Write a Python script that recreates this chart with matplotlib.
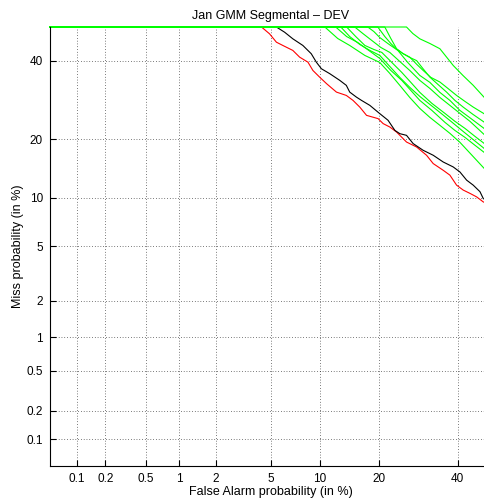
import math
import numpy as np
import matplotlib
matplotlib.use("Agg")
import matplotlib.pyplot as plt

plt.rcParams['font.family'] = ['Liberation Sans', 'DejaVu Sans']

# ---------------- data (percent) ----------------
title = "Jan GMM Segmental \u2013 DEV"
xlabel = "False Alarm probability (in %)"
ylabel = "Miss probability (in %)"
tick_values = [0.1, 0.2, 0.5, 1, 2, 5, 10, 20, 40]
tick_labels = ["0.1", "0.2", "0.5", "1", "2", "5", "10", "20", "40"]

red_fa = [0.05, 4.32, 4.90, 5.44, 5.99, 6.93, 7.63, 8.56, 9.15, 10.0, 10.94, 12.38, 13.95, 15.09,
          16.30, 17.57, 19.88, 20.95, 22.41, 23.95, 26.30, 28.81, 31.39, 33.17, 35.92, 37.80,
          39.71, 41.62, 43.59, 45.57, 47.53, 50]
red_miss = [50, 50, 47.96, 45.47, 44.5, 43.03, 41.06, 39.6, 37.23, 35.36, 33.55, 31.28, 30.4, 29.11,
            27.41, 25.39, 24.61, 23.45, 22.67, 21.55, 19.43, 18.42, 16.82, 15.30, 14.14, 13.34,
            11.79, 11.08, 10.62, 10.14, 9.49, 9.08]

black_fa = [0.05, 5.44, 6.15, 6.93, 7.98, 8.95, 9.58, 10.24, 11.40, 12.90, 13.95, 14.52, 15.70,
            16.62, 18.22, 20.24, 22.02, 23.56, 24.70, 26.30, 27.94, 30.5, 33.17, 35.92, 38.74,
            40.67, 42.62, 44.56, 46.55, 47.53, 50]
black_miss = [50, 50, 48.44, 46.47, 44.5, 42.06, 39.6, 37.71, 36.31, 34.45, 33.09, 31.28, 29.95,
              29.11, 27.84, 25.80, 24.22, 21.91, 21.2, 20.84, 19.11, 17.77, 16.82, 15.58, 14.71,
              13.86, 12.55, 11.79, 10.85, 9.92, 9.33]

g1_fa = [0.05, 26.30, 27.86, 29.64, 32.27, 35.0, 36.94, 38.74, 41.54, 44.56, 47.74, 50]
g1_miss = [50, 50, 48.05, 46.47, 45.09, 43.53, 40.97, 38.66, 35.83, 33.09, 29.95, 28.09]

g2_fa = [0.05, 21.31, 22.64, 23.95, 25.41, 27.10, 28.88, 30.5, 32.55, 35.0, 37.23, 39.71, 42.12,
         44.56, 47.74, 50]
g2_miss = [50, 50, 46.56, 43.53, 42.15, 41.06, 38.94, 37.23, 35.28, 34.0, 32.27, 30.4, 28.86,
           27.41, 25.80, 24.22]

g3_fa = [0.05, 19.82, 21.31, 22.69, 24.02, 25.48, 27.10, 28.81, 30.42, 32.27, 34.45, 36.86, 39.23,
         41.62, 44.47, 47.74, 50]
g3_miss = [50, 50, 47.15, 45.0, 43.32, 42.06, 40.97, 40.06, 37.8, 35.36, 33.36, 31.28, 29.11,
           27.41, 25.63, 23.82, 22.37]

g4_fa = [0.05, 17.81, 19.01, 20.24, 21.96, 24.24, 26.61, 29.64, 32.27, 35.0, 37.80, 40.67, 44.18,
         47.74, 50]
g4_miss = [50, 50, 48.65, 46.85, 45.09, 43.03, 39.51, 35.83, 33.91, 31.2, 29.11, 26.59, 24.45,
           22.37, 21.05]

g5_fa = [0.05, 15.39, 16.87, 18.61, 20.45, 22.41, 24.70, 27.10, 29.64, 32.27, 35.0, 37.80, 40.67,
         43.59, 47.74, 50]
g5_miss = [50, 50, 48.05, 45.97, 43.91, 42.44, 39.8, 37.23, 34.45, 32.27, 29.87, 27.84, 25.87,
           23.98, 21.05, 20.0]

g6_fa = [0.05, 14.0, 15.57, 17.25, 19.01, 20.67, 22.87, 25.17, 27.36, 29.64, 32.82, 36.39, 39.23,
         42.12, 45.06, 47.74, 50]
g6_miss = [50, 50, 47.15, 44.5, 43.32, 42.44, 39.51, 36.67, 33.91, 31.2, 28.35, 25.87, 23.98,
           22.37, 20.62, 19.17, 18.16]

g7_fa = [0.05, 13.06, 14.52, 16.30, 18.22, 20.24, 22.41, 24.70, 27.10, 29.64, 32.27, 35.0, 38.09,
         41.25, 44.47, 47.74, 50]
g7_miss = [50, 50, 47.15, 44.79, 43.03, 41.56, 38.37, 35.28, 32.55, 30.13, 28.09, 26.11, 23.98,
           21.91, 19.98, 18.16, 17.2]

g8_fa = [0.05, 12.27, 14.0, 15.93, 18.0, 20.24, 22.64, 25.17, 27.36, 29.64, 32.82, 36.39, 39.23,
         42.12, 45.06, 47.74, 50]
g8_miss = [50, 50, 47.15, 45.38, 43.03, 40.68, 37.23, 34.45, 31.73, 29.11, 26.59, 23.75, 21.91,
           20.41, 18.77, 17.39, 16.44]

g9_fa = [0.05, 10.70, 12.58, 14.52, 17.25, 20.24, 22.41, 24.70, 27.10, 29.64, 32.27, 35.0, 37.80,
         40.67, 44.18, 47.74, 50]
g9_miss = [50, 50, 46.56, 44.5, 41.56, 39.51, 36.39, 33.09, 29.87, 27.08, 24.91, 23.06, 21.27,
           19.37, 16.82, 14.49, 13.34]

green_fa = [g1_fa, g2_fa, g3_fa, g4_fa, g5_fa, g6_fa, g7_fa, g8_fa, g9_fa]
green_miss = [g1_miss, g2_miss, g3_miss, g4_miss, g5_miss, g6_miss, g7_miss, g8_miss, g9_miss]

# ---------------- normal deviate scale ----------------
_a = [-3.969683028665376e+01, 2.209460984245205e+02, -2.759285104469687e+02,
      1.383577518672690e+02, -3.066479806614716e+01, 2.506628277459239e+00]
_b = [-5.447609879822406e+01, 1.615858368580409e+02, -1.556989798598866e+02,
      6.680131188771972e+01, -1.328068155288572e+01, 1.0]
_c = [-7.784894002430293e-03, -3.223964580411365e-01, -2.400758277161838e+00,
      -2.549732539343734e+00, 4.374664141464968e+00, 2.938163982698783e+00]
_d = [7.784695709041462e-03, 3.224671290700398e-01, 2.445134137142996e+00,
      3.754408661907416e+00, 1.0]
_plow = 0.02425


def probit(pct):
    arr = np.asarray(pct, dtype=float)
    shape = arr.shape
    p = np.clip(np.atleast_1d(arr).ravel() / 100.0, 1e-9, 1 - 1e-9)
    z = np.empty_like(p)
    lo = p < _plow
    hi = p > 1 - _plow
    mid = ~(lo | hi)
    q = np.sqrt(-2 * np.log(p[lo]))
    z[lo] = np.polyval(_c, q) / np.polyval(_d, q)
    q = p[mid] - 0.5
    r = q * q
    z[mid] = np.polyval(_a, r) * q / np.polyval(_b, r)
    q = np.sqrt(-2 * np.log(1 - p[hi]))
    z[hi] = -np.polyval(_c, q) / np.polyval(_d, q)
    return z.reshape(shape)


_erf = np.vectorize(math.erf, otypes=[float])


def cdf(z):
    z = np.asarray(z, dtype=float)
    return 50.0 * (1.0 + _erf(z / math.sqrt(2.0)))


# ---------------- figure ----------------
W, H = 484, 501
fig = plt.figure(figsize=(W / 100, H / 100), dpi=100)
ax = fig.add_axes([50 / W, 35 / H, 441.6 / W, 439 / H])
ax.set_xscale('function', functions=(probit, cdf))
ax.set_yscale('function', functions=(probit, cdf))
ax.set_xlim(0.05, 50)
ax.set_ylim(0.05, 50)

lw = 0.8
ax.plot(red_fa, red_miss, color='#ff0000', lw=lw, clip_on=False)
ax.plot(black_fa, black_miss, color='black', lw=lw, clip_on=False)
for fa, miss in zip(green_fa, green_miss):
    ax.plot(fa, miss, color='#00ff00', lw=lw, clip_on=False)

ax.set_xticks(tick_values)
ax.set_xticklabels(tick_labels)
ax.set_yticks(tick_values)
ax.set_yticklabels(tick_labels)
ax.minorticks_off()
ax.tick_params(direction='in', length=4, width=0.8, labelsize=8.5, pad=5,
               top=False, right=False)
ax.grid(True, linestyle=(0, (1, 3)), color='black', linewidth=0.5)

ax.spines['top'].set_visible(False)
ax.spines['right'].set_visible(False)
ax.spines['left'].set_linewidth(0.8)
ax.spines['bottom'].set_linewidth(0.8)

ax.set_title(title, fontsize=9, pad=6)
ax.set_xlabel(xlabel, fontsize=9, labelpad=1)
ax.set_ylabel(ylabel, fontsize=9, labelpad=1.5)

fig.savefig("out.png", dpi=100)
